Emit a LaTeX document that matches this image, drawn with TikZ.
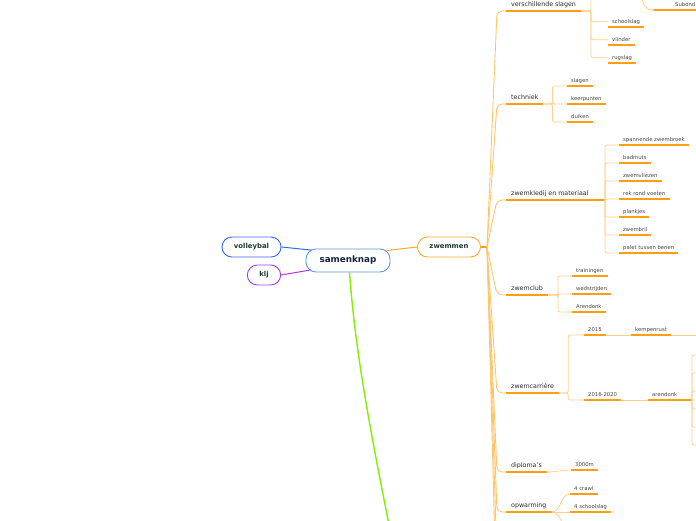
\documentclass[tikz,border=0pt]{standalone}
\usepackage{fontspec}
\setmainfont{DejaVu Sans}
\usetikzlibrary{backgrounds}
\definecolor{ulc}{HTML}{FF9E0F}
\definecolor{cl}{HTML}{FFD08C}
\definecolor{cone}{HTML}{FFC56C}
\definecolor{txtone}{HTML}{2A2A2A}
\definecolor{txttwo}{HTML}{444444}
\definecolor{topictxt}{HTML}{1E3A34}
\definecolor{navy}{HTML}{15223F}
\definecolor{mainblue}{HTML}{5B9BD5}
\definecolor{volleyblue}{HTML}{3568EE}
\definecolor{kljpurple}{HTML}{A43CE8}
\definecolor{zworange}{HTML}{FFA92E}
\definecolor{lgreen}{HTML}{84F000}
\begin{document}
\begin{tikzpicture}[x=1pt,y=-1pt,
  mainnode/.style={rounded corners=10pt, draw=mainblue, line width=0.9pt, fill=white,
    inner xsep=13.5pt, inner ysep=0pt, minimum height=23pt,
    font=\fontsize{8.8}{10}\selectfont\bfseries, text=navy},
  topic/.style={rounded corners=10pt, draw=#1, line width=0.9pt, fill=white,
    inner xsep=12pt, inner ysep=0pt, minimum height=20pt,
    font=\fontsize{6.9}{8}\selectfont\bfseries, text=topictxt},
  ulone/.style={draw=ulc, line width=1.4pt},
  ultwo/.style={draw=ulc, line width=1.1pt},
  lone/.style={anchor=south west, inner xsep=5pt, inner ysep=2.5pt,
    text height=4.8pt, text depth=1.5pt,
    font=\fontsize{6.3}{7}\selectfont, text=txtone,
    append after command={(\tikzlastnode.south west) edge[ulone] (\tikzlastnode.south east)}},
  ltwo/.style={anchor=south west, inner xsep=4pt, inner ysep=2.4pt,
    text height=4pt, text depth=1.3pt,
    font=\fontsize{5.3}{6}\selectfont, text=txttwo,
    append after command={(\tikzlastnode.south west) edge[ultwo] (\tikzlastnode.south east)}},
  conone/.style={draw=cone, line width=0.9pt, rounded corners=5pt},
  contwo/.style={draw=cl, line width=0.8pt, rounded corners=2pt},
]
\useasboundingbox (0,0) rectangle (696,520);
\clip (0,0) rectangle (696,520);

% central and first-level topics
\node[mainnode] (root) at (348,260.5) {samenknap};
\node[topic=volleyblue] (volley) at (251.5,247) {volleybal};
\node[topic=kljpurple] (klj) at (264,275) {klj};
\node[topic=zworange] (zw) at (449,247) {zwemmen};

% level 1 under zwemmen
\node[lone] (A) at (506,11) {verschillende slagen};
\node[lone] (B) at (506,104) {techniek};
\node[lone] (C) at (506,200) {zwemkledij en materiaal};
\node[lone] (D) at (506,295) {zwemclub};
\node[lone] (E) at (506,393) {zwemcarrière};
\node[lone] (F) at (506,472) {diploma's};
\node[lone] (G) at (506,512) {opwarming};

% level 2
\node[ltwo] (A1) at (608,27) {schoolslag};
\node[ltwo] (A2) at (608,45) {vlinder};
\node[ltwo] (A3) at (608,63) {rugslag};
\node[ltwo, inner xsep=21pt] (Asub) at (654,10) {Subond};

\node[ltwo] (B1) at (567,86) {slagen};
\node[ltwo] (B2) at (567,104) {keerpunten};
\node[ltwo] (B3) at (567,122) {duiken};

\node[ltwo] (C1) at (619,145) {spannende zwembroek};
\node[ltwo] (C2) at (619,163) {badmuts};
\node[ltwo] (C3) at (619,181) {zwemvliezen};
\node[ltwo] (C4) at (619,199) {rek rond voeten};
\node[ltwo] (C5) at (619,217) {plankjes};
\node[ltwo] (C6) at (619,235) {zwembril};
\node[ltwo] (C7) at (619,253) {palet tussen benen};

\node[ltwo] (D1) at (572,276) {trainingen};
\node[ltwo] (D2) at (572,294) {wedstrijden};
\node[ltwo] (D3) at (572,312) {Arendonk};

\node[ltwo] (E1) at (584,335) {2015};
\node[ltwo] (E2) at (584,400) {2016-2020};
\node[ltwo] (E1a) at (631,335) {kempenrust};
\node[ltwo] (E2a) at (648,400) {arendonk};

\node[ltwo] (F1) at (571,470) {3000m};

\node[ltwo] (G1) at (570,494) {4 crawl};
\node[ltwo] (G2) at (570,512) {4 schoolslag};

% free ends of connectors leaving the picture
\coordinate (fan) at (487,247);
\coordinate (H) at (506,560);
\coordinate (I) at (506,620);
\coordinate (A0) at (608,-9);
\coordinate (subp) at (641,-8);
\coordinate (Cb) at (605,200);
\coordinate (Eb) at (692,400);
\coordinate (kend) at (702,335);
\coordinate (G3) at (572,532);
\coordinate (gend) at (400,580);
\foreach \i/\y in {1/355,2/373,3/391,4/409,5/427,6/445}{\coordinate (R\i) at (702,\y);}

\begin{pgfonlayer}{background}
  % central connectors
  \draw[volleyblue, line width=1pt] (volley.east) -- ([shift={(10pt,-2pt)}]root.north west);
  \draw[kljpurple, line width=1pt] (klj.east) -- ([shift={(8pt,3pt)}]root.south west);
  \draw[zworange, line width=1pt] ([shift={(-4pt,-2pt)}]root.north east) -- (zw.west);
  \draw[lgreen, line width=1.4pt] ([xshift=1.5pt]root.south) .. controls (356,360) and (372,440) .. (gend);
\end{pgfonlayer}

% zwemmen fan
\draw[ulone] (zw.east) -- (fan);
\foreach \n in {A,B,C,D,E,F,G}{
  \draw[conone] (fan) -- ([xshift=-9pt]\n.south west) -- (\n.south west);
}
\draw[conone] (fan) -- ([xshift=-9pt]H) -- (H);
\draw[conone] (fan) -- ([xshift=-9pt]I) -- (I);

% verschillende slagen
\foreach \n in {A0,A1,A2,A3}{
  \draw[contwo] (A.south east) -- ++(10,0) |- (\n);
}
\draw[contwo] (subp) .. controls (642,6) and (646,10) .. (Asub.south west);

% techniek
\foreach \n in {B1,B2,B3}{
  \draw[contwo] (B.south east) -- ++(9,0) |- (\n.south west);
}

% zwemkledij
\draw[ulone] (C.south east) -- (Cb);
\foreach \n in {C1,C2,C3,C4,C5,C6,C7}{
  \draw[contwo] (Cb) |- (\n.south west);
}

% zwemclub
\foreach \n in {D1,D2,D3}{
  \draw[contwo] (D.south east) -- ++(10,0) |- (\n.south west);
}

% zwemcarriere
\foreach \n in {E1,E2}{
  \draw[contwo] (E.south east) -- ++(9,0) |- (\n.south west);
}
\draw[contwo] (E1.south east) -- (E1a.south west);
\draw[contwo] (E2.south east) -- (E2a.south west);
\draw[contwo] (E1a.south east) -- (kend);
\draw[ultwo] (E2a.south east) -- (Eb);
\foreach \i in {1,...,6}{
  \draw[contwo] (Eb) |- (R\i);
}

% diploma's
\draw[contwo] (F.south east) to[out=0,in=180] (F1.south west);

% opwarming
\draw[contwo] (G.south east) to[out=0,in=180] (G1.south west);
\draw[contwo] (G.south east) -- (G2.south west);
\draw[contwo] (G.south east) to[out=0,in=180] (G3);
\end{tikzpicture}
\end{document}
